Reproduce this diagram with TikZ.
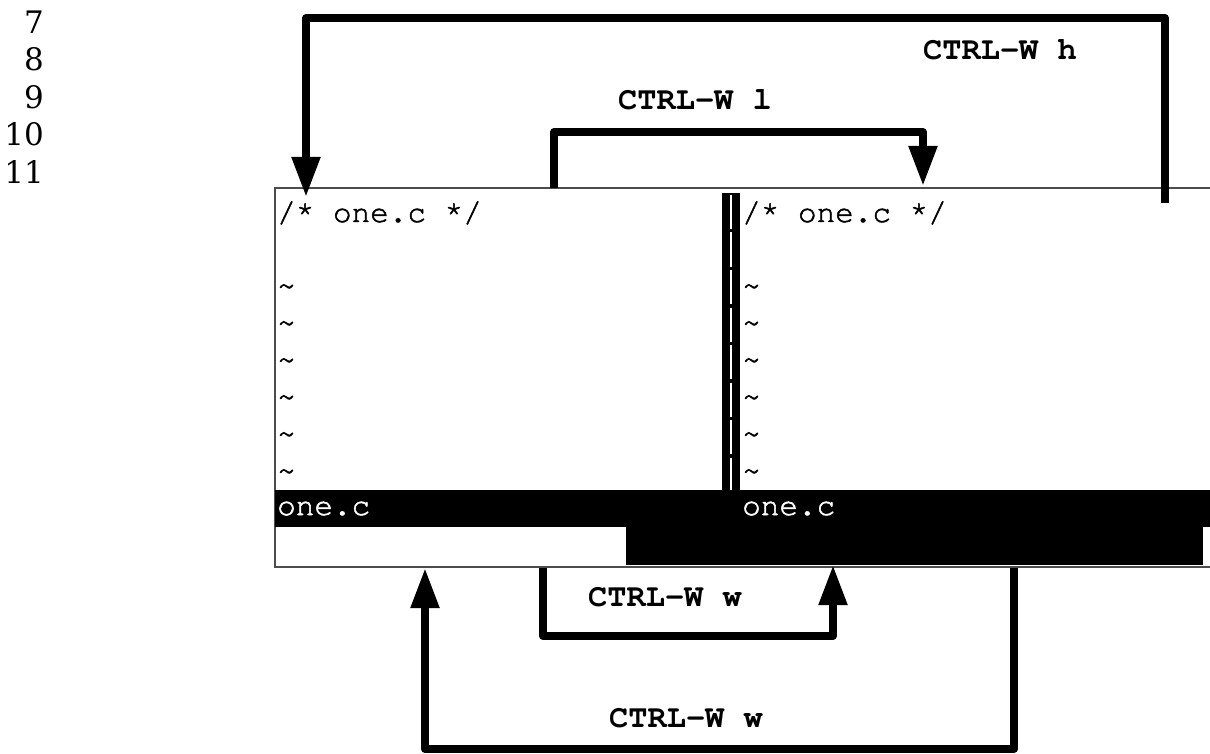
\documentclass[tikz,border=0pt]{standalone}
\usepackage{fontspec}
\usepackage{tikz}
\usetikzlibrary{arrows.meta, positioning, calc}
\newfontfamily\bufmono{texgyrecursor}[Extension=.otf, UprightFont=*-regular, BoldFont=*-bold, UprightFeatures={FakeBold=1.6}]
\newfontfamily\numserif{DejaVu Serif}

\begin{document}
\begin{tikzpicture}[x=1pt, y=-1pt,
    buftext/.style={anchor=base west, inner sep=0pt, font=\bufmono\fontsize{31}{37}\selectfont},
    keylabel/.style={inner sep=0pt, font=\bufmono\bfseries\fontsize{32}{38}\selectfont},
    keyarrow/.style={line width=8pt, line join=round, -{Triangle[length=40pt, width=27pt]}}]
    \useasboundingbox (0,0) rectangle (1210,754);

    % line numbers
    \foreach \n [count=\i from 0] in {7,8,9,10,11}
        \node[anchor=base east, inner sep=0pt, font=\numserif\fontsize{31}{37}\selectfont] (num\n) at (44,33.5+37.5*\i) {\n};

    % window frame, separator, status lines
    \draw[gray!60!black, line width=1.2pt] (1210,188) -- (275,188) -- (275,567) -- (1210,567);
    \fill (722,193) rectangle (740,490);
    \draw[white, line width=1.6pt, dash pattern=on 34pt off 3.5pt] (731,195) -- (731,490);
    \fill (275,490) rectangle (1210,527);
    \fill (626,527) rectangle (1203,565);

    % buffer text
    \node[buftext] (lhead) at (277,222) {/* one.c */};
    \node[buftext] (rhead) at (742,222) {/* one.c */};
    \foreach \i in {0,...,5} {
        \node[buftext] (ltil\i) at (277,295+37*\i) {\textasciitilde};
        \node[buftext] (rtil\i) at (742,295+37*\i) {\textasciitilde};
    }
    \node[buftext, text=white] (lstat) at (277,515) {one.c};
    \node[buftext, text=white] (rstat) at (742,515) {one.c};

    % window moves
    \coordinate (hstart) at (1165,203);
    \coordinate (hend) at (306,197);
    \draw[keyarrow] (hstart) -- ++(0,-185) -| (hend);
    \coordinate (lstart) at (554,188);
    \coordinate (lend) at (923,186);
    \draw[keyarrow] (lstart) -- ++(0,-56) -| (lend);
    \coordinate (wstart) at (543,568);
    \coordinate (wend) at (833,565);
    \draw[keyarrow] (wstart) -- ++(0,68) -| (wend);
    \coordinate (ostart) at (1014,568);
    \coordinate (oend) at (425,568);
    \draw[keyarrow] (ostart) -- ++(0,181) -| (oend);

    \node[keylabel] (hkey) at (1000,50) {CTRL-W h};
    \node[keylabel] (lkey) at (695,100) {CTRL-W l};
    \node[keylabel] (wkey) at (665,597) {CTRL-W w};
    \node[keylabel] (okey) at (686,718) {CTRL-W w};
\end{tikzpicture}
\end{document}
